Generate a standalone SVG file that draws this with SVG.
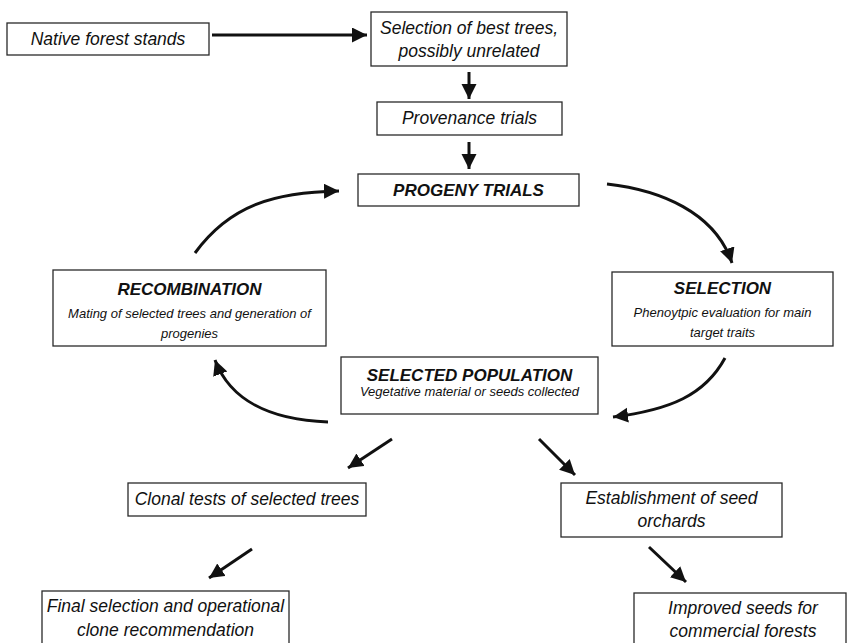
<svg xmlns="http://www.w3.org/2000/svg" width="847" height="643" viewBox="0 0 847 643">
  <defs>
    <marker id="head" markerUnits="userSpaceOnUse" markerWidth="18" markerHeight="18" refX="15" refY="7.5" orient="auto">
      <path d="M0,0 L15,7.5 L0,15 z" fill="#111"/>
    </marker>
    <style>
      .box { fill: #fff; stroke: #2a2a2a; stroke-width: 1.3; }
      .t { font-family: "Liberation Sans", Arial, sans-serif; font-style: italic; fill: #111; text-anchor: middle; }
      .big { font-size: 17.5px; }
      .head { font-size: 17px; font-weight: bold; }
      .sub { font-size: 13px; }
      .link { fill: none; stroke: #111; stroke-width: 3; marker-end: url(#head); }
    </style>
  </defs>

  <g id="connectors">
    <line class="link" x1="212" y1="35" x2="367" y2="35"/>
    <line class="link" x1="469" y1="72" x2="469" y2="99"/>
    <line class="link" x1="469" y1="142" x2="469" y2="169"/>
    <path class="link" d="M195,253 C230,205 275,192 339,191"/>
    <path class="link" d="M607,184 C660,190 715,212 732,263"/>
    <path class="link" d="M725,358 C705,395 670,410 613,417"/>
    <path class="link" d="M328,422 C270,420 230,400 215,360"/>
    <line class="link" x1="392" y1="439" x2="348" y2="468"/>
    <line class="link" x1="539" y1="439" x2="575" y2="475"/>
    <line class="link" x1="252" y1="549" x2="209" y2="578"/>
    <line class="link" x1="649" y1="547" x2="686" y2="582"/>
  </g>

  <g id="native-forest">
    <rect class="box" x="7" y="23" width="202" height="32"/>
    <text class="t big" x="108" y="45">Native forest stands</text>
  </g>

  <g id="best-trees">
    <rect class="box" x="371" y="12" width="196" height="54"/>
    <text class="t big" x="469" y="34">Selection of best trees,</text>
    <text class="t big" x="469" y="57">possibly unrelated</text>
  </g>

  <g id="provenance">
    <rect class="box" x="377" y="102" width="185" height="33"/>
    <text class="t big" x="469.5" y="124">Provenance trials</text>
  </g>

  <g id="progeny">
    <rect class="box" x="358" y="174" width="221" height="32"/>
    <text class="t head" x="468.5" y="196">PROGENY TRIALS</text>
  </g>

  <g id="recombination">
    <rect class="box" x="53" y="270" width="273" height="76"/>
    <text class="t head" x="189.5" y="295">RECOMBINATION</text>
    <text class="t sub" x="189.5" y="318">Mating of selected trees and generation of</text>
    <text class="t sub" x="189.5" y="338">progenies</text>
  </g>

  <g id="selection">
    <rect class="box" x="612" y="272" width="221" height="74"/>
    <text class="t head" x="722.5" y="294">SELECTION</text>
    <text class="t sub" x="722.5" y="317">Phenoytpic evaluation for main</text>
    <text class="t sub" x="722.5" y="337">target traits</text>
  </g>

  <g id="selected-population">
    <rect class="box" x="341" y="357" width="257" height="57"/>
    <text class="t head" x="469.5" y="381">SELECTED POPULATION</text>
    <text class="t sub" x="469.5" y="396">Vegetative material or seeds collected</text>
  </g>

  <g id="clonal-tests">
    <rect class="box" x="128" y="483" width="238" height="33"/>
    <text class="t big" x="247" y="505">Clonal tests of selected trees</text>
  </g>

  <g id="seed-orchards">
    <rect class="box" x="561" y="483" width="221" height="54"/>
    <text class="t big" x="671.5" y="504">Establishment of seed</text>
    <text class="t big" x="671.5" y="527">orchards</text>
  </g>

  <g id="final-selection">
    <rect class="box" x="42" y="591" width="247" height="60"/>
    <text class="t big" x="165.5" y="612">Final selection and operational</text>
    <text class="t big" x="165.5" y="636">clone recommendation</text>
  </g>

  <g id="improved-seeds">
    <rect class="box" x="634" y="593" width="212" height="60"/>
    <text class="t big" x="743" y="614">Improved seeds for</text>
    <text class="t big" x="743" y="637">commercial forests</text>
  </g>
</svg>
